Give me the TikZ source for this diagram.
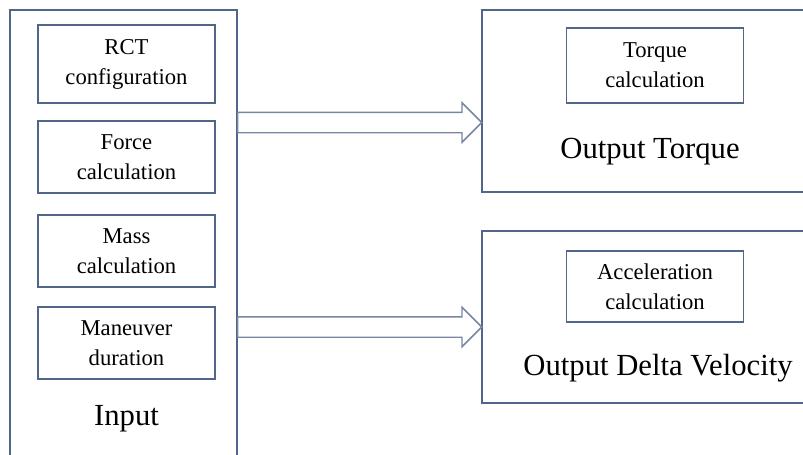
\documentclass[tikz,border=0pt]{standalone}
\usepackage{fontspec}
\setmainfont{Liberation Serif}
\usetikzlibrary{shapes.arrows}
\definecolor{frameblue}{RGB}{82,102,138}
\definecolor{arrowgray}{RGB}{120,134,162}
\begin{document}
\begin{tikzpicture}[x=0.75pt,y=-0.75pt,
    frame/.style={frameblue,line width=1.1pt},
    calcbox/.style={draw=frameblue,line width=1.1pt,align=center,
        minimum width=132.75pt,inner sep=0pt,
        font=\fontsize{17}{22.5}\selectfont},
    bigtext/.style={font=\fontsize{23}{27}\selectfont,inner sep=0pt},
    bigarrow/.style={single arrow,draw=arrowgray,line width=1.1pt,
        minimum height=183pt,inner xsep=0pt,inner ysep=7.125pt,
        single arrow head extend=7.125pt,anchor=tail}
    ]
        \useasboundingbox (0,0) rectangle (803,454);

        %input block
        \draw[frame] (10,460) -- (10,10) -- (237,10) -- (237,460);
        \node[calcbox,minimum height=58.5pt] (rct) at (126.5,64) {RCT\\configuration};
        \node[calcbox,minimum height=54pt] (force) at (126.5,157) {Force\\calculation};
        \node[calcbox,minimum height=54pt] (mass) at (126.5,251) {Mass\\calculation};
        \node[calcbox,minimum height=54pt] (maneuver) at (126.5,343) {Maneuver\\duration};
        \node[bigtext] (input) at (126.5,419) {Input};

        %output torque block
        \draw[frame] (810,10) -- (482,10) -- (482,192) -- (810,192);
        \node[calcbox,minimum height=56.25pt] (torque) at (655,65.5) {Torque\\calculation};
        \node[bigtext] (outtorque) at (650,152) {Output Torque};

        %output delta velocity block
        \draw[frame] (810,231) -- (482,231) -- (482,403) -- (810,403);
        \node[calcbox,minimum height=53.25pt] (accel) at (655,286.5) {Acceleration\\calculation};
        \node[bigtext] (outdelta) at (658,368) {Output Delta Velocity};

        %arrows
        \node[bigarrow] (arrtorque) at (237,122.5) {};
        \node[bigarrow] (arrdelta) at (237,327) {};

\end{tikzpicture}
\end{document}
